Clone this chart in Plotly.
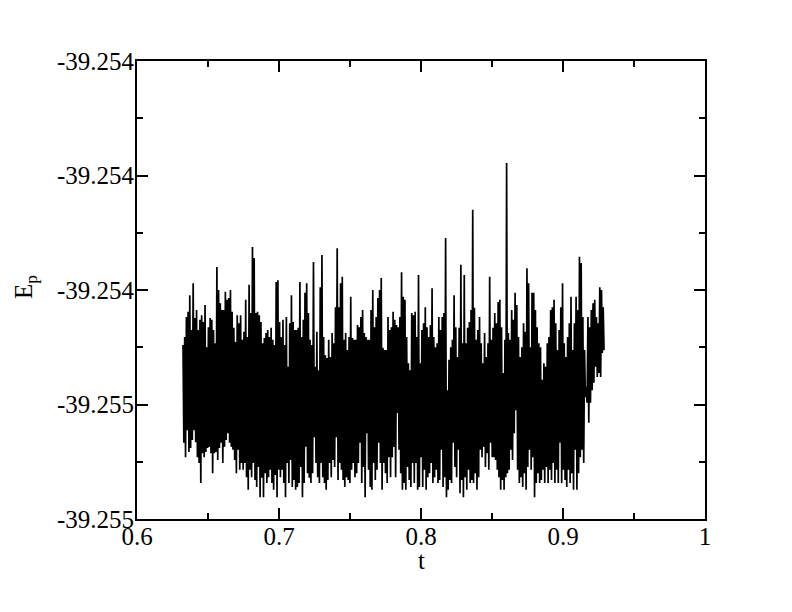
import numpy as np
import plotly.graph_objects as go

# time span of the trace
t_start = 0.6324
t_end = 0.9289

# potential energy E_p (alternating local highs / lows)
ep = [
    -39.254496, -39.254667, -39.254482, -39.254692, -39.254447, -39.254645, -39.254438, -39.254683, -39.254409, -39.254676,
    -39.254470, -39.254662, -39.254388, -39.254645, -39.254449, -39.254666, -39.254435, -39.254692, -39.254470, -39.254702,
    -39.254452, -39.254737, -39.254444, -39.254685, -39.254456, -39.254692, -39.254426, -39.254683, -39.254500, -39.254676,
    -39.254465, -39.254674, -39.254449, -39.254685, -39.254452, -39.254720, -39.254470, -39.254685, -39.254493, -39.254683,
    -39.254360, -39.254697, -39.254400, -39.254676, -39.254423, -39.254667, -39.254435, -39.254702, -39.254435, -39.254674,
    -39.254403, -39.254662, -39.254417, -39.254650, -39.254414, -39.254667, -39.254400, -39.254674, -39.254438, -39.254679,
    -39.254466, -39.254697, -39.254491, -39.254720, -39.254444, -39.254679, -39.254458, -39.254714, -39.254444, -39.254702,
    -39.254487, -39.254714, -39.254473, -39.254702, -39.254417, -39.254727, -39.254482, -39.254749, -39.254391, -39.254714,
    -39.254440, -39.254727, -39.254325, -39.254702, -39.254344, -39.254732, -39.254440, -39.254744, -39.254438, -39.254709,
    -39.254444, -39.254762, -39.254456, -39.254728, -39.254493, -39.254762, -39.254484, -39.254720, -39.254475, -39.254737,
    -39.254470, -39.254727, -39.254482, -39.254714, -39.254466, -39.254737, -39.254487, -39.254749, -39.254496, -39.254723,
    -39.254386, -39.254762, -39.254383, -39.254714, -39.254456, -39.254727, -39.254482, -39.254714, -39.254452, -39.254737,
    -39.254496, -39.254762, -39.254447, -39.254702, -39.254534, -39.254737, -39.254458, -39.254697, -39.254409, -39.254744,
    -39.254456, -39.254732, -39.254470, -39.254749, -39.254470, -39.254744, -39.254466, -39.254737, -39.254386, -39.254709,
    -39.254482, -39.254762, -39.254452, -39.254737, -39.254405, -39.254674, -39.254388, -39.254720, -39.254440, -39.254728,
    -39.254487, -39.254737, -39.254496, -39.254720, -39.254351, -39.254657, -39.254534, -39.254702, -39.254473, -39.254727,
    -39.254540, -39.254737, -39.254395, -39.254702, -39.254339, -39.254727, -39.254482, -39.254737, -39.254514, -39.254749,
    -39.254519, -39.254732, -39.254487, -39.254702, -39.254517, -39.254727, -39.254475, -39.254697, -39.254493, -39.254709,
    -39.254430, -39.254657, -39.254327, -39.254732, -39.254430, -39.254702, -39.254388, -39.254714, -39.254377, -39.254732,
    -39.254487, -39.254744, -39.254475, -39.254727, -39.254505, -39.254732, -39.254482, -39.254737, -39.254412, -39.254714,
    -39.254484, -39.254702, -39.254487, -39.254727, -39.254487, -39.254720, -39.254461, -39.254702, -39.254465, -39.254667,
    -39.254447, -39.254737, -39.254435, -39.254709, -39.254475, -39.254762, -39.254482, -39.254650, -39.254487, -39.254714,
    -39.254487, -39.254744, -39.254435, -39.254749, -39.254400, -39.254702, -39.254465, -39.254732, -39.254447, -39.254714,
    -39.254414, -39.254667, -39.254400, -39.254702, -39.254379, -39.254749, -39.254501, -39.254702, -39.254505, -39.254720,
    -39.254505, -39.254737, -39.254447, -39.254692, -39.254470, -39.254727, -39.254465, -39.254692, -39.254438, -39.254674,
    -39.254452, -39.254727, -39.254461, -39.254615, -39.254465, -39.254679, -39.254447, -39.254720, -39.254369, -39.254749,
    -39.254412, -39.254737, -39.254417, -39.254749, -39.254482, -39.254709, -39.254528, -39.254732, -39.254540, -39.254744,
    -39.254440, -39.254702, -39.254444, -39.254737, -39.254438, -39.254702, -39.254482, -39.254749, -39.254374, -39.254744,
    -39.254528, -39.254692, -39.254470, -39.254744, -39.254458, -39.254714, -39.254430, -39.254749, -39.254465, -39.254727,
    -39.254482, -39.254720, -39.254461, -39.254702, -39.254397, -39.254737, -39.254482, -39.254727, -39.254500, -39.254714,
    -39.254493, -39.254737, -39.254447, -39.254732, -39.254470, -39.254679, -39.254447, -39.254744, -39.254440, -39.254727,
    -39.254309, -39.254762, -39.254575, -39.254749, -39.254522, -39.254732, -39.254500, -39.254737, -39.254487, -39.254667,
    -39.254409, -39.254709, -39.254465, -39.254727, -39.254517, -39.254679, -39.254466, -39.254755, -39.254356, -39.254732,
    -39.254493, -39.254762, -39.254374, -39.254727, -39.254493, -39.254749, -39.254466, -39.254714, -39.254456, -39.254737,
    -39.254435, -39.254732, -39.254260, -39.254737, -39.254431, -39.254720, -39.254487, -39.254749, -39.254470, -39.254727,
    -39.254447, -39.254679, -39.254493, -39.254692, -39.254528, -39.254674, -39.254475, -39.254709, -39.254517, -39.254685,
    -39.254493, -39.254714, -39.254377, -39.254667, -39.254487, -39.254692, -39.254466, -39.254692, -39.254440, -39.254697,
    -39.254458, -39.254714, -39.254421, -39.254727, -39.254417, -39.254749, -39.254465, -39.254732, -39.254545, -39.254749,
    -39.254487, -39.254727, -39.254178, -39.254720, -39.254475, -39.254714, -39.254487, -39.254679, -39.254435, -39.254697,
    -39.254452, -39.254650, -39.254405, -39.254610, -39.254426, -39.254714, -39.254482, -39.254737, -39.254517, -39.254727,
    -39.254500, -39.254744, -39.254458, -39.254720, -39.254473, -39.254749, -39.254362, -39.254709, -39.254388, -39.254679,
    -39.254500, -39.254714, -39.254405, -39.254692, -39.254405, -39.254762, -39.254435, -39.254737, -39.254465, -39.254720,
    -39.254493, -39.254737, -39.254500, -39.254732, -39.254557, -39.254714, -39.254528, -39.254737, -39.254534, -39.254709,
    -39.254493, -39.254737, -39.254482, -39.254714, -39.254435, -39.254732, -39.254430, -39.254702, -39.254417, -39.254737,
    -39.254458, -39.254714, -39.254505, -39.254737, -39.254470, -39.254667, -39.254430, -39.254737, -39.254388, -39.254714,
    -39.254493, -39.254732, -39.254517, -39.254744, -39.254482, -39.254714, -39.254458, -39.254737, -39.254412, -39.254720,
    -39.254505, -39.254749, -39.254458, -39.254679, -39.254412, -39.254749, -39.254435, -39.254720, -39.254342, -39.254692,
    -39.254353, -39.254679, -39.254447, -39.254702, -39.254505, -39.254587, -39.254569, -39.254597, -39.254447, -39.254632,
    -39.254465, -39.254597, -39.254435, -39.254575, -39.254423, -39.254562, -39.254417, -39.254534, -39.254447, -39.254552,
    -39.254458, -39.254545, -39.254395, -39.254552, -39.254400, -39.254510, -39.254430, -39.254505,
]

t = np.linspace(t_start, t_end, len(ep))

x_tickvals = [0.6, 0.7, 0.8, 0.9, 1.0]
x_ticktext = ["0.6", "0.7", "0.8", "0.9", "1"]
y_tickvals = [-39.2548, -39.2546, -39.2544, -39.2542, -39.2540]
y_ticktext = ["-39.255", "-39.255", "-39.254", "-39.254", "-39.254"]
x_title = "t"
y_title = "E<sub>p</sub>"

FONT = "Liberation Serif"

fig = go.Figure()
fig.add_trace(go.Scatter(
    x=t, y=ep, mode="lines",
    line=dict(color="black", width=1.7),
    showlegend=False, hoverinfo="skip",
))

axis_common = dict(
    showgrid=False, zeroline=False,
    showline=True, linecolor="black", linewidth=2,
    mirror="ticks", ticks="inside", ticklen=11, tickwidth=2, tickcolor="black",
    tickfont=dict(family=FONT, size=25, color="black"),
)

fig.update_xaxes(
    **axis_common,
    range=[0.6, 1.0],
    tickmode="array", tickvals=x_tickvals, ticktext=x_ticktext,
    minor=dict(ticks="inside", ticklen=6, tickwidth=2, tickcolor="black", dtick=0.05, tick0=0.6),
    ticklabelstandoff=-6,
)
fig.update_yaxes(
    **axis_common,
    range=[-39.2548, -39.2540],
    tickmode="array", tickvals=y_tickvals, ticktext=y_ticktext,
    minor=dict(ticks="inside", ticklen=6, tickwidth=2, tickcolor="black", dtick=0.0001, tick0=-39.2548),
    ticklabelstandoff=-4,
)

# axis titles placed as annotations for exact positioning
fig.add_annotation(
    text=x_title, xref="paper", yref="paper", x=0.5, y=-0.0917,
    xanchor="center", yanchor="middle", showarrow=False,
    font=dict(family=FONT, size=25, color="black"),
)
fig.add_annotation(
    text=y_title, xref="paper", yref="paper", x=-0.1954, y=0.5066,
    xanchor="center", yanchor="middle", showarrow=False, textangle=-90,
    font=dict(family=FONT, size=25, color="black"),
)

fig.update_layout(
    width=784, height=604,
    margin=dict(l=129, r=87, t=53, b=93, autoexpand=False),
    paper_bgcolor="white", plot_bgcolor="white",
    font=dict(family=FONT, size=25, color="black"),
)

fig.write_html("out.html", config={"displayModeBar": False})
